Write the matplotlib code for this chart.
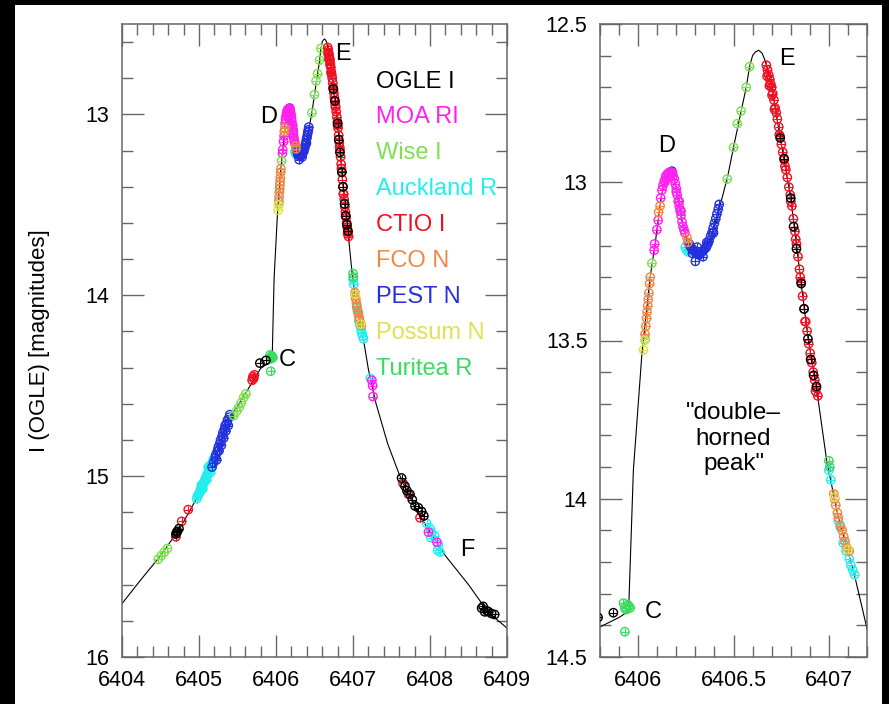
#!/usr/bin/env python3
"""Caustic-crossing light curve: full event plus zoom on the double-horned peak."""

import matplotlib

matplotlib.use("Agg")
import matplotlib.pyplot as plt
from matplotlib.patches import Rectangle
from matplotlib.ticker import MultipleLocator

# model light curve (HJD-2450000, I mag)
MODEL_T = [6404.00, 6404.25, 6404.50, 6404.75, 6405.00, 6405.20, 6405.40, 6405.60,
           6405.80, 6405.90, 6405.95, 6405.975, 6406.02, 6406.063, 6406.09, 6406.12,
           6406.14, 6406.165, 6406.19, 6406.21, 6406.235, 6406.26, 6406.29, 6406.32,
           6406.35, 6406.38, 6406.41, 6406.44, 6406.47, 6406.50, 6406.54, 6406.567,
           6406.584, 6406.60, 6406.615, 6406.632, 6406.65, 6406.665, 6406.68, 6406.70,
           6406.745, 6406.80, 6406.855, 6406.89, 6406.935, 6406.99, 6407.05, 6407.13,
           6407.20, 6407.30, 6407.45, 6407.60, 6407.80, 6408.00, 6408.20, 6408.50,
           6408.75, 6409.00]
MODEL_M = [15.705, 15.57, 15.44, 15.29, 15.10, 14.90, 14.68, 14.545,
           14.405, 14.375, 14.355, 13.91, 13.54, 13.30, 13.19, 13.05,
           12.99, 12.97, 12.99, 13.06, 13.14, 13.19, 13.215, 13.225,
           13.215, 13.18, 13.115, 13.05, 12.98, 12.89, 12.775, 12.70,
           12.635, 12.60, 12.588, 12.583, 12.592, 12.615, 12.645, 12.70,
           12.86, 13.05, 13.32, 13.49, 13.65, 13.885, 14.06, 14.23,
           14.41, 14.60, 14.82, 14.99, 15.17, 15.31, 15.44, 15.60,
           15.75, 15.84]

OGLE_T = [6404.70, 6404.72, 6404.74, 6404.71, 6405.79, 6405.87,
          6406.745, 6406.765, 6406.80, 6406.815, 6406.83, 6406.855, 6406.87, 6406.89,
          6406.905, 6406.92, 6406.935,
          6407.63, 6407.675, 6407.70, 6407.74, 6407.77, 6407.805, 6407.85, 6407.89, 6407.92,
          6408.67, 6408.69, 6408.71, 6408.74, 6408.76, 6408.80, 6408.84]
OGLE_M = [15.32, 15.305, 15.29, 15.31, 14.375, 14.36,
          12.86, 12.925, 13.05, 13.14, 13.21, 13.32, 13.40, 13.495,
          13.56, 13.61, 13.645,
          15.01, 15.055, 15.08, 15.10, 15.13, 15.165, 15.175, 15.195, 15.22,
          15.73, 15.72, 15.75, 15.745, 15.75, 15.76, 15.765]

MOA_T = [6406.084, 6406.086, 6406.098, 6406.105, 6406.118, 6406.125, 6406.13, 6406.137,
         6406.145, 6406.152, 6406.16, 6406.168, 6406.175, 6406.183, 6406.19, 6406.195,
         6406.20, 6406.205, 6406.21, 6406.215, 6406.22, 6406.225, 6406.23, 6406.235,
         6406.24, 6406.245, 6406.14, 6406.15, 6406.165, 6406.18, 6406.20, 6406.215,
         6406.225, 6407.245, 6407.255, 6407.26, 6407.98, 6408.09]
MOA_M = [13.215, 13.195, 13.15, 13.12, 13.05, 13.025, 13.01, 12.995,
         12.98, 12.975, 12.97, 12.968, 12.972, 12.98, 12.99, 13.005,
         13.02, 13.04, 13.06, 13.075, 13.09, 13.105, 13.125, 13.14,
         13.15, 13.16, 13.00, 12.99, 12.98, 12.97, 13.03, 13.06,
         13.09, 14.47, 14.50, 14.56, 15.31, 15.365]

WISE_T = [6404.47, 6404.51, 6404.55, 6404.59,
          6405.45, 6405.49, 6405.52, 6405.55, 6405.58, 6405.61,
          6406.037, 6406.072,
          6406.467, 6406.50, 6406.52, 6406.54, 6406.567, 6406.584]
WISE_M = [15.46, 15.44, 15.42, 15.40,
          14.665, 14.64, 14.62, 14.595, 14.565, 14.545,
          13.496, 13.256,
          12.99, 12.89, 12.815, 12.775, 12.70, 12.635]

AUCK_T = [6404.97, 6404.98, 6404.99, 6405.00, 6405.01, 6405.02, 6405.03, 6405.04,
          6405.05, 6405.06, 6405.07, 6405.08, 6405.09, 6405.10, 6405.11, 6405.12,
          6405.13, 6405.14, 6405.15, 6405.16, 6405.17, 6405.18, 6405.19, 6405.20,
          6405.21, 6405.05, 6405.10, 6405.12, 6405.03, 6405.15,
          6406.247, 6406.255, 6406.262,
          6407.00, 6407.01, 6407.05, 6407.06, 6407.075, 6407.09, 6407.107, 6407.115,
          6407.125, 6407.135, 6407.225,
          6407.955, 6408.00, 6408.02, 6408.01, 6408.06, 6408.11, 6408.10, 6408.13]
AUCK_M = [15.125, 15.11, 15.105, 15.095, 15.09, 15.075, 15.07, 15.06,
          15.045, 15.04, 15.03, 15.015, 15.01, 14.995, 14.99, 14.975,
          14.97, 14.955, 14.95, 14.94, 14.925, 14.92, 14.905, 14.90,
          14.89, 15.07, 15.02, 14.95, 15.05, 14.98,
          13.205, 13.215, 13.22,
          13.91, 13.94, 14.07, 14.09, 14.14, 14.165, 14.19, 14.21,
          14.225, 14.24, 14.46,
          15.26, 15.29, 15.31, 15.34, 15.33, 15.38, 15.41, 15.42]

CTIO_T = [6404.70, 6404.775, 6404.86, 6405.69, 6405.70, 6405.71, 6405.72,
          6406.672, 6406.678, 6406.684, 6406.690, 6406.695, 6406.700, 6406.706, 6406.712,
          6406.718, 6406.724, 6406.730, 6406.737, 6406.744, 6406.751, 6406.758, 6406.766,
          6406.774, 6406.782, 6406.790, 6406.798, 6406.806, 6406.814, 6406.822, 6406.830,
          6406.838, 6406.846, 6406.854, 6406.862, 6406.870, 6406.878, 6406.886, 6406.894,
          6406.902, 6406.910, 6406.918, 6406.926, 6406.934, 6406.942,
          6406.676, 6406.688, 6406.702, 6406.715, 6406.740, 6406.770, 6406.800, 6406.826,
          6406.850, 6406.875, 6406.905, 6406.930,
          6407.65, 6407.72, 6407.87]
CTIO_M = [15.335, 15.25, 15.185, 14.47, 14.45, 14.46, 14.44,
          12.63, 12.645, 12.66, 12.675, 12.69, 12.70, 12.72, 12.74,
          12.765, 12.78, 12.80, 12.825, 12.855, 12.88, 12.905, 12.93,
          12.96, 12.985, 13.015, 13.04, 13.075, 13.115, 13.155, 13.195,
          13.235, 13.275, 13.315, 13.36, 13.40, 13.44, 13.47, 13.51,
          13.54, 13.57, 13.60, 13.625, 13.65, 13.675,
          12.665, 12.695, 12.725, 12.77, 12.85, 12.95, 13.06, 13.18,
          13.30, 13.44, 13.56, 13.66,
          15.04, 15.10, 15.23]

FCO_T = [6406.036, 6406.040, 6406.044, 6406.047, 6406.050, 6406.053, 6406.056, 6406.060,
         6406.063, 6406.107, 6406.115, 6406.256, 6406.26,
         6407.026, 6407.03, 6407.036, 6407.045, 6407.05, 6407.06, 6407.07, 6407.078,
         6407.085, 6407.095, 6407.107]
FCO_M = [13.48, 13.455, 13.43, 13.41, 13.39, 13.37, 13.35, 13.32,
         13.30, 13.095, 13.075, 13.175, 13.19,
         13.985, 14.00, 14.02, 14.045, 14.06, 14.085, 14.10, 14.12,
         14.135, 14.155, 14.165]

PEST_T = [6405.17, 6405.19, 6405.21, 6405.22, 6405.24, 6405.25, 6405.27, 6405.28,
          6405.30, 6405.31, 6405.33, 6405.34, 6405.36, 6405.37, 6405.39, 6405.40,
          6405.26, 6405.32, 6405.35, 6405.38, 6405.29, 6405.23,
          6406.177, 6406.268, 6406.275, 6406.283, 6406.29, 6406.298, 6406.305, 6406.313,
          6406.32, 6406.328, 6406.335, 6406.343, 6406.35, 6406.358, 6406.365, 6406.372,
          6406.38, 6406.387, 6406.393, 6406.40, 6406.407, 6406.413, 6406.42, 6406.425,
          6406.30, 6406.285, 6406.31, 6406.34, 6406.36, 6406.395]
PEST_M = [14.95, 14.925, 14.90, 14.88, 14.86, 14.84, 14.82, 14.80,
          14.78, 14.76, 14.74, 14.72, 14.71, 14.69, 14.675, 14.66,
          14.86, 14.79, 14.75, 14.72, 14.83, 14.91,
          12.965, 13.195, 13.205, 13.21, 13.215, 13.22, 13.225, 13.225,
          13.23, 13.225, 13.22, 13.215, 13.21, 13.205, 13.195, 13.185,
          13.17, 13.16, 13.145, 13.13, 13.115, 13.10, 13.085, 13.07,
          13.25, 13.225, 13.205, 13.235, 13.19, 13.16]

POSSUM_T = [6406.028, 6406.034, 6407.03, 6407.10]
POSSUM_M = [13.53, 13.50, 13.995, 14.16]

TURITEA_T = [6405.923, 6405.93, 6405.937, 6405.945, 6405.952, 6405.958, 6405.93,
             6407.00, 6407.005]
TURITEA_M = [14.33, 14.345, 14.35, 14.335, 14.34, 14.345, 14.42,
             13.88, 13.90]

LABELS = ["OGLE I", "MOA RI", "Wise I", "Auckland R", "CTIO I",
          "FCO N", "PEST N", "Possum N", "Turitea R"]
COLORS = ["#000000", "#ff22ee", "#7de052", "#22eeee", "#ee1122",
          "#ee8844", "#2430dd", "#e0e050", "#38dc5e"]


def draw_panel(ax, datasets):
    ax.plot(MODEL_T, MODEL_M, color="black", lw=0.8, zorder=2)
    for t, m, c in datasets:
        ax.scatter(t, m, s=36, facecolors="none", edgecolors=c, linewidths=1.0, zorder=3)
        ax.scatter(t, m, s=36, marker="+", color=c, linewidths=0.8, zorder=3)
    ax.invert_yaxis()
    ax.tick_params(which="both", direction="in", top=True, right=True,
                   color="#666666", labelsize=15.5, labelcolor="black")
    ax.tick_params(which="major", length=16, width=1.0, pad=9)
    ax.tick_params(which="minor", length=8, width=1.0)
    for s in ax.spines.values():
        s.set_color("#666666")
        s.set_linewidth(1.1)


def main() -> None:
    plt.rcParams["font.family"] = ["Liberation Sans", "DejaVu Sans"]

    order = {
        "OGLE I": (OGLE_T, OGLE_M), "MOA RI": (MOA_T, MOA_M), "Wise I": (WISE_T, WISE_M),
        "Auckland R": (AUCK_T, AUCK_M), "CTIO I": (CTIO_T, CTIO_M), "FCO N": (FCO_T, FCO_M),
        "PEST N": (PEST_T, PEST_M), "Possum N": (POSSUM_T, POSSUM_M),
        "Turitea R": (TURITEA_T, TURITEA_M),
    }
    cmap = dict(zip(LABELS, COLORS))
    # drawing order: black OGLE points end up on top
    draw_order = ["Auckland R", "PEST N", "MOA RI", "Wise I", "FCO N",
                  "Possum N", "Turitea R", "CTIO I", "OGLE I"]
    datasets = [(order[k][0], order[k][1], cmap[k]) for k in draw_order]

    fig = plt.figure(figsize=(8.89, 7.04), dpi=100, facecolor="black")
    fig.patches.append(Rectangle((15 / 889, 0), 867 / 889, 699 / 704,
                                 transform=fig.transFigure, facecolor="white",
                                 edgecolor="none", zorder=-10))

    ax1 = fig.add_axes([122 / 889, 47 / 704, 385 / 889, 633 / 704])
    ax2 = fig.add_axes([600 / 889, 47 / 704, 267 / 889, 633 / 704])

    draw_panel(ax1, datasets)
    ax1.set_xlim(6404, 6409)
    ax1.set_ylim(16, 12.5)
    ax1.set_yticks([13, 14, 15, 16])
    ax1.xaxis.set_major_locator(MultipleLocator(1))
    ax1.xaxis.set_minor_locator(MultipleLocator(0.2))
    ax1.yaxis.set_minor_locator(MultipleLocator(0.2))
    ax1.xaxis.set_major_formatter(lambda v, p: f"{v:.0f}")

    draw_panel(ax2, datasets)
    ax2.set_xlim(6405.8, 6407.2)
    ax2.set_ylim(14.5, 12.5)
    ax2.set_xticks([6406, 6406.5, 6407])
    ax2.set_xticklabels(["6406", "6406.5", "6407"])
    ax2.set_yticks([12.5, 13, 13.5, 14, 14.5])
    ax2.set_yticklabels(["12.5", "13", "13.5", "14", "14.5"])
    ax2.xaxis.set_minor_locator(MultipleLocator(0.1))
    ax2.yaxis.set_minor_locator(MultipleLocator(0.1))

    fig.text(40 / 889, 0.5163, "I (OGLE) [magnitudes]", rotation=90,
             ha="center", va="center", fontsize=16)

    # instrument key
    for i, (lab, col) in enumerate(zip(LABELS, COLORS)):
        ax1.text(6407.30, 12.818 + 0.1985 * i, lab, color=col, fontsize=17,
                 ha="left", va="center")

    for ax, x, y, s in [(ax1, 6406.87, 12.668, "E"), (ax1, 6405.90, 13.012, "D"),
                        (ax1, 6406.14, 14.356, "C"), (ax1, 6408.49, 15.406, "F"),
                        (ax2, 6406.151, 12.885, "D"), (ax2, 6406.779, 12.611, "E"),
                        (ax2, 6406.081, 14.357, "C")]:
        ax.text(x, y, s, fontsize=17, ha="center", va="center")

    ax2.text(6406.5, 13.81, "\"double\u2013\nhorned\npeak\"", fontsize=17.5,
             ha="center", va="center", linespacing=1.2)

    fig.savefig("out.png", dpi=100, facecolor=fig.get_facecolor())
    plt.close(fig)


if __name__ == "__main__":
    main()
